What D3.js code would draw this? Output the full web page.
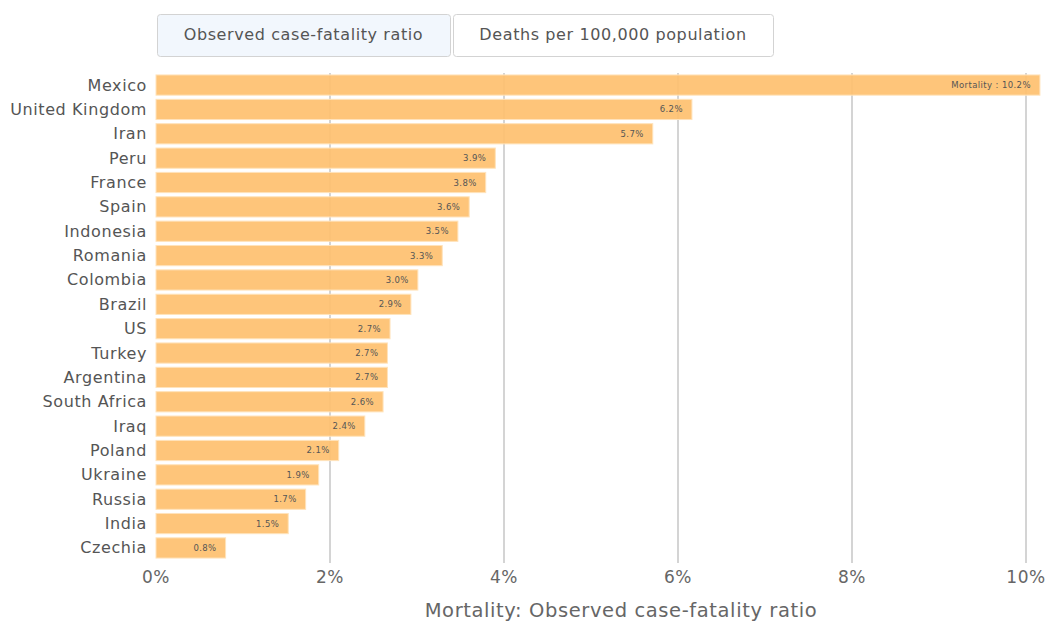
<!DOCTYPE html>
<html><head><meta charset="utf-8">
<script src="https://cdn.jsdelivr.net/npm/d3@7"></script>
<style>body{margin:0;background:#fff;font-family:"DejaVu Sans",Verdana,sans-serif;}</style>
</head><body>
<svg id="c" width="1047" height="621"></svg>
<script>
const countries = ["Mexico","United Kingdom","Iran","Peru","France","Spain","Indonesia","Romania","Colombia","Brazil","US","Turkey","Argentina","South Africa","Iraq","Poland","Ukraine","Russia","India","Czechia"];
const values = [10.16,6.16,5.71,3.90,3.79,3.60,3.47,3.29,3.01,2.93,2.69,2.66,2.66,2.61,2.40,2.10,1.87,1.72,1.52,0.80];
const valueLabels = ["Mortality : 10.2%","6.2%","5.7%","3.9%","3.8%","3.6%","3.5%","3.3%","3.0%","2.9%","2.7%","2.7%","2.7%","2.6%","2.4%","2.1%","1.9%","1.7%","1.5%","0.8%"];
const ticks = [0,2,4,6,8,10];
const buttons = ["Observed case-fatality ratio","Deaths per 100,000 population"];
const axisTitle = "Mortality: Observed case-fatality ratio";

const svg = d3.select("#c");
const x = d3.scaleLinear().domain([0,10]).range([156,1026]);
const y = d3.scaleBand().domain(countries).range([73,560]).paddingInner(0.17).paddingOuter(0.08);

// buttons
const bx = [[157,450],[453,773]];
buttons.forEach((b,i)=>{
  svg.append("rect").attr("x",bx[i][0]+0.5).attr("y",14.5).attr("width",bx[i][1]-bx[i][0]).attr("height",42)
    .attr("rx",3).attr("fill",i===0?"#f2f7fd":"#fff").attr("stroke","#d3d3d3");
  svg.append("text").attr("x",(bx[i][0]+bx[i][1])/2).attr("y",40).attr("text-anchor","middle")
    .attr("font-size",16).attr("letter-spacing",0.6).attr("fill","#555").text(b);
});

// grid
svg.append("g").selectAll("line").data(ticks.slice(1)).join("line")
  .attr("x1",d=>x(d)).attr("x2",d=>x(d)).attr("y1",73).attr("y2",563)
  .attr("stroke","#d4d4d4").attr("stroke-width",2);

// bars
svg.append("g").selectAll("rect").data(countries).join("rect")
  .attr("x",x(0)).attr("y",d=>y(d)).attr("height",y.bandwidth())
  .attr("width",(d,i)=>x(values[i])-x(0))
  .attr("fill","#fec06f").attr("fill-opacity",0.92).attr("stroke","#ffe3bb").attr("stroke-width",1);

// value labels
svg.append("g").selectAll("text").data(countries).join("text")
  .attr("x",(d,i)=>x(values[i])-9).attr("y",d=>y(d)+y.bandwidth()/2+3)
  .attr("text-anchor","end").attr("font-size",8.5).attr("letter-spacing",0.4).attr("fill","#555")
  .text((d,i)=>valueLabels[i]);

// category labels
svg.append("g").selectAll("text").data(countries).join("text")
  .attr("x",147).attr("y",d=>y(d)+y.bandwidth()/2+5.5)
  .attr("text-anchor","end").attr("font-size",16).attr("letter-spacing",0.6).attr("fill","#555").text(d=>d);

// x ticks
svg.append("g").selectAll("text").data(ticks).join("text")
  .attr("x",d=>x(d)).attr("y",583).attr("text-anchor","middle")
  .attr("font-size",17).attr("letter-spacing",0.5).attr("fill","#666").text(d=>d+"%");

svg.append("text").attr("x",621).attr("y",617).attr("text-anchor","middle")
  .attr("font-size",19.5).attr("letter-spacing",0.6).attr("fill","#666").text(axisTitle);
</script>
</body></html>
